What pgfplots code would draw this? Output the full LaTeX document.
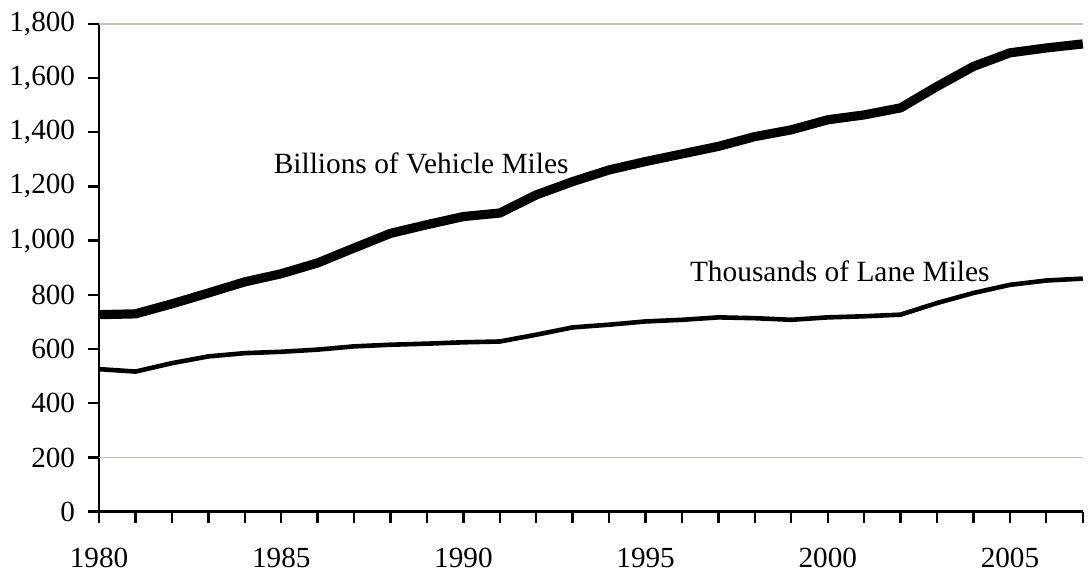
\documentclass[border=0pt]{standalone}
\usepackage{fontspec}
\setmainfont{Liberation Serif}
\usepackage{pgfplots}
\pgfplotsset{compat=1.18}
\definecolor{gridc}{RGB}{200,190,186}
\begin{document}
\begin{tikzpicture}
\begin{axis}[
  scale only axis, width=492pt, height=244pt,
  xmin=1980, xmax=2007, ymin=0, ymax=1800,
  axis x line=bottom, axis y line=left,
  axis line style={-, line width=1.4pt, black},
  xtick={1980,1985,...,2005},
  minor xtick={1981,...,2007},
  ytick={0,200,...,1800},
  tick align=outside,
  major tick length=5.5pt, minor tick length=5.5pt,
  tick style={black, line width=1.2pt},
  minor tick style={black, line width=1.2pt},
  /pgf/number format/assume math mode=true,
  xticklabel style={/pgf/number format/1000 sep={}, font=\fontsize{14.6}{17}\selectfont, yshift=-9pt},
  yticklabel style={/pgf/number format/1000 sep={,}, font=\fontsize{14.6}{17}\selectfont, xshift=-3pt},
  extra y ticks={200,1800}, extra y tick labels={},
  extra y tick style={grid=major, major tick length=0pt, major grid style={gridc, line width=0.7pt}},
  clip=false,
]
\path (axis cs:1977.28,-236) rectangle (axis cs:2007.17,1888);
\addplot[black, line width=4.6pt, line join=round] coordinates {
(1980,727) (1981,730) (1982,767) (1983,807) (1984,848) (1985,878) (1986,918)
(1987,973) (1988,1027) (1989,1059) (1990,1089) (1991,1102) (1992,1169) (1993,1218)
(1994,1261) (1995,1292) (1996,1320) (1997,1348) (1998,1384) (1999,1409) (2000,1446)
(2001,1464) (2002,1490) (2003,1569) (2004,1643) (2005,1693) (2006,1711) (2007,1726)};
\addplot[black, line width=2.3pt, line join=round] coordinates {
(1980,526) (1981,517) (1982,548) (1983,573) (1984,585) (1985,590) (1986,598)
(1987,610) (1988,616) (1989,620) (1990,625) (1991,628) (1992,653) (1993,680)
(1994,690) (1995,702) (1996,708) (1997,717) (1998,714) (1999,708) (2000,717)
(2001,721) (2002,727) (2003,770) (2004,807) (2005,837) (2006,853) (2007,860)};
\node[font=\fontsize{14.7}{17}\selectfont] at (axis cs:1988.84,1287) {Billions of Vehicle Miles};
\node[font=\fontsize{14.7}{17}\selectfont] at (axis cs:2000.33,886) {Thousands of Lane Miles};
\end{axis}
\end{tikzpicture}
\end{document}
